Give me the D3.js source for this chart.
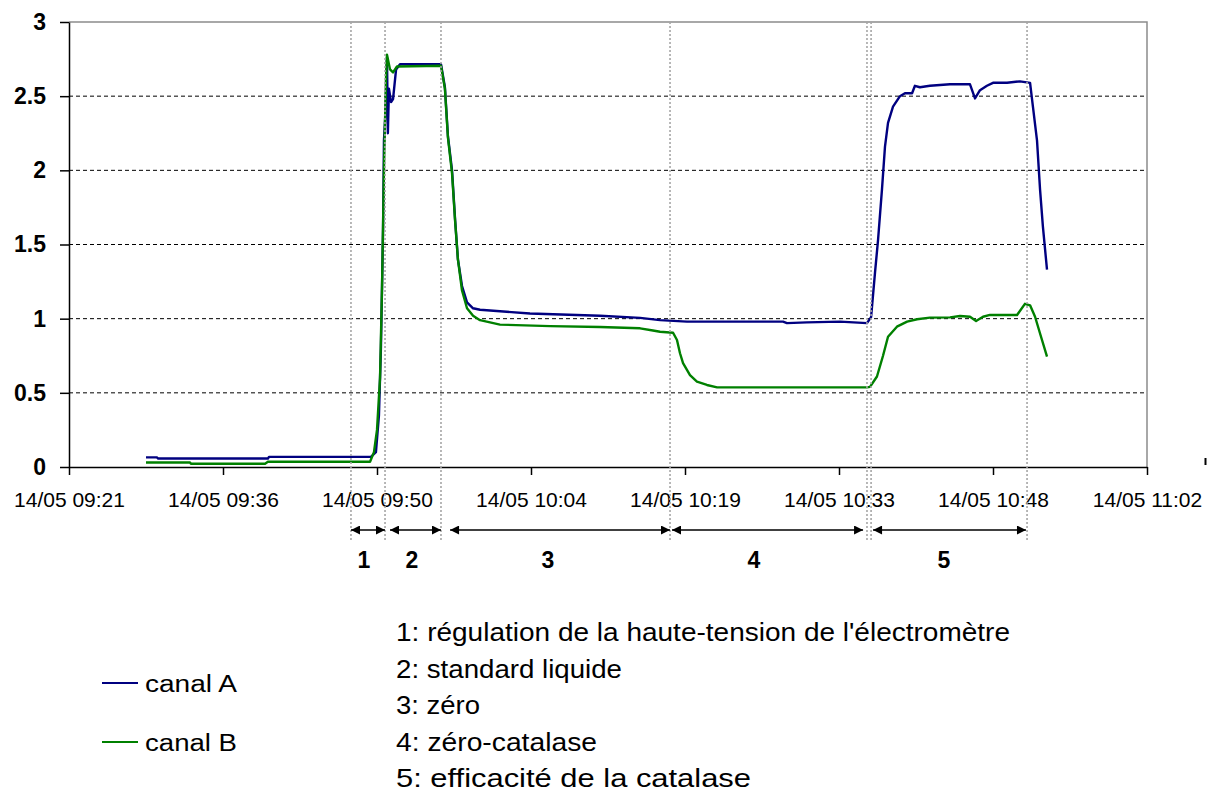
<!doctype html>
<html lang="fr">
<head>
<meta charset="utf-8">
<title>canal A / canal B</title>
<style>
  body { margin: 0; background: #fff; }
  svg { display: block; font-family: Arial, "Liberation Sans", sans-serif; }
  .grid line { stroke: #000; stroke-width: 1; stroke-dasharray: 4,3; }
  .frame { stroke: #8c8c8c; stroke-width: 1.5; fill: none; }
  .axis path, .axis line { stroke: #000; stroke-width: 1.5; }
  .xaxis text { font-size: 21px; fill: #000; }
  .yaxis text { font-size: 23px; font-weight: bold; fill: #000; }
  .serie { fill: none; stroke-width: 2.4; stroke-linejoin: round; }
  .vline { stroke: #a6a6a6; stroke-width: 1.6; stroke-dasharray: 2,2; }
  .arrow { stroke: #000; stroke-width: 1.5; }
  .phase { font-size: 23px; font-weight: bold; }
  .legend text { font-size: 23px; }
  .notes text { font-size: 25px; }
</style>
</head>
<body>
<div id="chart"></div>
<script src="https://d3js.org/d3.v7.min.js"></script>
<script>
// ------------- data (day 14/05)
var day = "14/05";

var timesA = ["09:28:48","09:29:50","09:29:55","09:40:12","09:40:18","09:49:50","09:50:18","09:50:35",
  "09:50:46","09:50:58","09:51:03","09:51:12","09:51:20","09:51:25","09:51:31","09:51:43","09:51:54",
  "09:52:11","09:52:33","09:56:23","09:56:45","09:57:02","09:57:25","09:57:42","09:57:58","09:58:21",
  "09:58:49","09:59:23","10:00:02","10:04:42","10:11:15","10:15:00","10:16:52","10:19:23","10:28:22",
  "10:28:44","10:30:36","10:33:42","10:36:13","10:36:36","10:36:58","10:37:15","10:37:37","10:37:54",
  "10:38:11","10:38:39","10:39:18","10:39:46","10:40:26","10:40:42","10:41:10","10:42:06","10:43:59",
  "10:45:51","10:46:19","10:46:47","10:47:26","10:48:00","10:49:19","10:50:31","10:51:28","10:51:44",
  "10:52:07","10:52:24","10:52:40","10:53:03"];
var valuesA = [0.065,0.065,0.057,0.057,0.068,0.068,0.10,0.35,
  0.80,1.60,2.20,2.40,2.76,2.25,2.55,2.46,2.48,
  2.68,2.715,2.715,2.56,2.23,2.00,1.67,1.40,1.22,
  1.11,1.07,1.06,1.035,1.02,1.005,0.99,0.98,0.98,
  0.97,0.975,0.98,0.97,1.01,1.31,1.53,1.87,2.16,
  2.32,2.43,2.50,2.52,2.52,2.57,2.56,2.57,2.58,
  2.58,2.485,2.54,2.57,2.59,2.59,2.60,2.59,2.43,
  2.20,1.87,1.62,1.33];

var timesB = ["09:28:48","09:32:55","09:33:00","09:39:56","09:40:12","09:49:45","09:50:07","09:50:24",
  "09:50:41","09:50:52","09:51:03","09:51:14","09:51:20","09:51:37","09:51:54","09:52:16","09:56:23",
  "09:56:45","09:57:02","09:57:25","09:57:42","09:57:58","09:58:21","09:58:49","09:59:23","10:00:02",
  "10:01:54","10:06:35","10:11:15","10:15:00","10:16:12","10:16:52","10:18:05","10:18:27","10:18:44",
  "10:19:01","10:19:40","10:20:19","10:21:15","10:22:12","10:36:13","10:36:30","10:37:09","10:37:43",
  "10:38:11","10:39:01","10:39:58","10:40:54","10:42:06","10:43:59","10:44:55","10:45:51","10:46:25",
  "10:47:04","10:47:43","10:50:15","10:50:59","10:51:28","10:51:56","10:52:24","10:53:03"];
var valuesB = [0.03,0.03,0.022,0.022,0.035,0.035,0.10,0.25,
  0.60,1.20,2.00,2.60,2.78,2.68,2.66,2.70,2.705,
  2.55,2.22,1.98,1.66,1.40,1.19,1.07,1.02,0.99,
  0.96,0.95,0.944,0.935,0.92,0.912,0.905,0.856,0.767,
  0.70,0.62,0.575,0.553,0.537,0.537,0.54,0.61,0.75,
  0.878,0.946,0.98,0.996,1.007,1.009,1.018,1.013,0.984,
  1.013,1.025,1.025,1.10,1.09,1.013,0.90,0.744];

var seriesNames = ["canal A", "canal B"];
var seriesColors = ["#000080", "#008000"];

var yTicks = [0, 0.5, 1, 1.5, 2, 2.5, 3];
var xTicks = ["09:21:36","09:36:00","09:50:24","10:04:48","10:19:12","10:33:36","10:48:00","11:02:24"];

// phases
var markTimes = ["09:47:58","09:51:09","09:56:23","10:17:48","10:36:13","10:36:36","10:51:11"];
var phaseLabels = ["1","2","3","4","5"];
var phaseStart = ["09:47:58","09:51:37","09:57:14","10:17:59","10:36:47"];
var phaseEnd = ["09:51:09","09:56:23","10:17:48","10:35:51","10:51:05"];
var phaseLabelTimes = ["09:49:11","09:53:40","10:06:23","10:25:39","10:43:25"];

var notes = ["1: régulation de la haute-tension de l'électromètre",
  "2: standard liquide",
  "3: zéro",
  "4: zéro-catalase",
  "5: efficacité de la catalase"];
var noteWidths = [614, 226, 84, 201, 355];

(function() {
  // ------------- setup
  var W = 1207, H = 790;
  var pl = 69, pt = 22, pr = 1147, pb = 467;

  var parse = d3.timeParse("%d/%m %H:%M:%S");
  var t = function(s) { return parse(day + " " + s); };

  var x = d3.scaleTime().domain([t(xTicks[0]), t(xTicks[xTicks.length - 1])]).range([pl, pr]);
  var y = d3.scaleLinear().domain([0, 3]).range([pb, pt]);

  var svg = d3.select("#chart").append("svg")
    .attr("width", W).attr("height", H);

  var defs = svg.append("defs");
  defs.append("marker")
    .attr("id", "head")
    .attr("viewBox", "0 0 10 10")
    .attr("refX", 10).attr("refY", 5)
    .attr("markerWidth", 10).attr("markerHeight", 9)
    .attr("markerUnits", "userSpaceOnUse")
    .attr("orient", "auto-start-reverse")
    .append("path").attr("d", "M0,0L10,5L0,10Z").attr("fill", "#000");

  // gridlines
  svg.append("g").attr("class", "grid")
    .selectAll("line").data(yTicks.filter(function(v) { return v > 0 && v < 3; }))
    .enter().append("line")
    .attr("x1", pl).attr("x2", pr)
    .attr("y1", function(d) { return y(d); }).attr("y2", function(d) { return y(d); });

  // top + right frame
  svg.append("path").attr("class", "frame")
    .attr("d", "M" + pl + "," + y(3) + "H" + pr + "V" + pb);

  // axes
  svg.append("g").attr("class", "axis xaxis")
    .attr("transform", "translate(0," + pb + ")")
    .call(d3.axisBottom(x).tickValues(xTicks.map(t))
      .tickFormat(d3.timeFormat("%d/%m %H:%M"))
      .tickSize(8).tickSizeOuter(0).tickPadding(17));

  svg.append("g").attr("class", "axis yaxis")
    .attr("transform", "translate(" + pl + ",0)")
    .call(d3.axisLeft(y).tickValues(yTicks).tickFormat(d3.format(""))
      .tickSize(9).tickSizeOuter(0).tickPadding(14));

  svg.selectAll(".axis").attr("font-family", null);

  // series
  var line = d3.line()
    .x(function(d) { return x(d.t); })
    .y(function(d) { return y(d.v); });

  var dataA = timesA.map(function(s, i) { return {t: t(s), v: valuesA[i]}; });
  var dataB = timesB.map(function(s, i) { return {t: t(s), v: valuesB[i]}; });

  svg.append("path").attr("class", "serie").datum(dataA)
    .attr("d", line).attr("stroke", seriesColors[0]);
  svg.append("path").attr("class", "serie").datum(dataB)
    .attr("d", line).attr("stroke", seriesColors[1]);

  // phase markers
  svg.append("g").selectAll("line").data(markTimes).enter().append("line")
    .attr("class", "vline")
    .attr("x1", function(d) { return x(t(d)); }).attr("x2", function(d) { return x(t(d)); })
    .attr("y1", pt).attr("y2", 541);

  var arrowY = 530;
  svg.append("g").selectAll("line").data(phaseLabels).enter().append("line")
    .attr("class", "arrow")
    .attr("x1", function(d, i) { return x(t(phaseStart[i])); })
    .attr("x2", function(d, i) { return x(t(phaseEnd[i])); })
    .attr("y1", arrowY).attr("y2", arrowY)
    .attr("marker-start", "url(#head)").attr("marker-end", "url(#head)");

  svg.append("g").selectAll("text").data(phaseLabels).enter().append("text")
    .attr("class", "phase")
    .attr("x", function(d, i) { return x(t(phaseLabelTimes[i])); })
    .attr("y", 568)
    .attr("text-anchor", "middle")
    .text(function(d) { return d; });

  // legend
  var legend = svg.append("g").attr("class", "legend");
  seriesNames.forEach(function(name, i) {
    var ly = 683 + i * 59;
    legend.append("line")
      .attr("x1", 102).attr("x2", 138).attr("y1", ly).attr("y2", ly)
      .attr("stroke", seriesColors[i]).attr("stroke-width", 2);
    legend.append("text")
      .attr("x", 145).attr("y", ly + 9)
      .attr("textLength", 92).attr("lengthAdjust", "spacingAndGlyphs")
      .text(name);
  });

  // notes
  svg.append("g").attr("class", "notes")
    .selectAll("text").data(notes).enter().append("text")
    .attr("x", 396)
    .attr("y", function(d, i) { return 641 + i * 36.5; })
    .attr("textLength", function(d, i) { return noteWidths[i]; })
    .attr("lengthAdjust", "spacingAndGlyphs")
    .text(function(d) { return d; });

  // small stray tick at far right
  svg.append("line")
    .attr("x1", 1205.5).attr("x2", 1205.5).attr("y1", 458).attr("y2", 465)
    .attr("stroke", "#000").attr("stroke-width", 2);
})();
</script>
</body>
</html>
